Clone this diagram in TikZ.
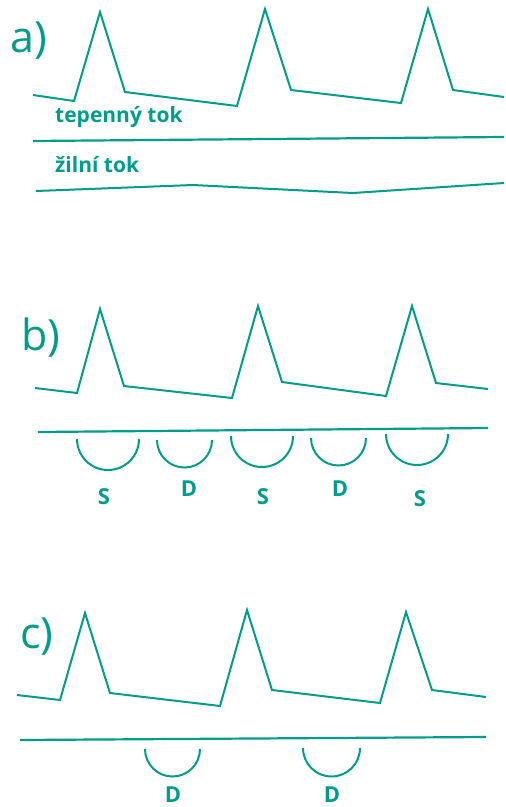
\documentclass[tikz,border=0pt]{standalone}
\usepackage{fontspec}
\setmainfont{Open Sans}
\usepackage{tikz}
\definecolor{flow}{RGB}{0,157,138}

\begin{document}
\begin{tikzpicture}[
  x=1pt,y=-1pt,
  wave/.style={draw=flow, line width=2pt, line join=miter},
  base/.style={draw=flow, line width=2.2pt},
  cup/.style={draw=flow, line width=2pt},
  tag/.style={text=flow, font=\fontsize{43}{43}\selectfont, inner sep=0pt, anchor=base west},
  lbl/.style={text=flow, font=\bfseries\fontsize{21}{21}\selectfont, inner sep=0pt, anchor=base west},
  phase/.style={text=flow, font=\bfseries\fontsize{22}{22}\selectfont, inner sep=0pt, anchor=base}
]
\useasboundingbox (0,0) rectangle (506,807);

% a) arterial and venous flow.
\node[tag] (taga) at (10,52) {a)};
\draw[wave] (33,95) -- (74,101) -- (100,12) -- (125,92) -- (237,106) -- (265,9)
  -- (291,90) -- (401,103) -- (428,9) -- (453,90) -- (504,97);
\node[lbl] (artery) at (55,122) {tepenný tok};
\draw[base] (33,141) -- (504,137);
\node[lbl] (vein) at (55,172) {žilní tok};
\draw[wave] (36,191) -- (193,185) -- (353,193) -- (504,183);

% b) systolic and diastolic phases.
\node[tag] (tagb) at (21,350) {b)};
\draw[wave] (35,388) -- (77,393) -- (100,309) -- (124,386) -- (232,398) -- (258,306)
  -- (282,382) -- (386,396) -- (412,306) -- (436,383) -- (488,389);
\draw[base] (38,432) -- (488,428);
\draw[cup] (77,439) arc[start angle=180, end angle=360, radius=31pt];
\draw[cup] (157,440) arc[start angle=180, end angle=360, radius=27.5pt];
\draw[cup] (231,436) arc[start angle=180, end angle=360, radius=31pt];
\draw[cup] (311,438) arc[start angle=180, end angle=360, radius=27.5pt];
\draw[cup] (386,434) arc[start angle=180, end angle=360, radius=31pt];
\node[phase] (s1) at (104,504) {S};
\node[phase] (d1) at (189,496) {D};
\node[phase] (s2) at (263,504) {S};
\node[phase] (d2) at (340,496) {D};
\node[phase] (s3) at (420,506) {S};

% c) diastolic phases only.
\node[tag] (tagc) at (20,648) {c)};
\draw[wave] (17,695) -- (60,700) -- (85,613) -- (110,693) -- (220,706) -- (247,610)
  -- (272,690) -- (380,703) -- (406,612) -- (432,690) -- (486,697);
\draw[base] (20,740) -- (486,737);
\draw[cup] (145,749) arc[start angle=180, end angle=360, radius=27.5pt];
\draw[cup] (303,748) arc[start angle=180, end angle=360, radius=28.5pt];
\node[phase] (d3) at (173,802) {D};
\node[phase] (d4) at (332,802) {D};
\end{tikzpicture}
\end{document}
